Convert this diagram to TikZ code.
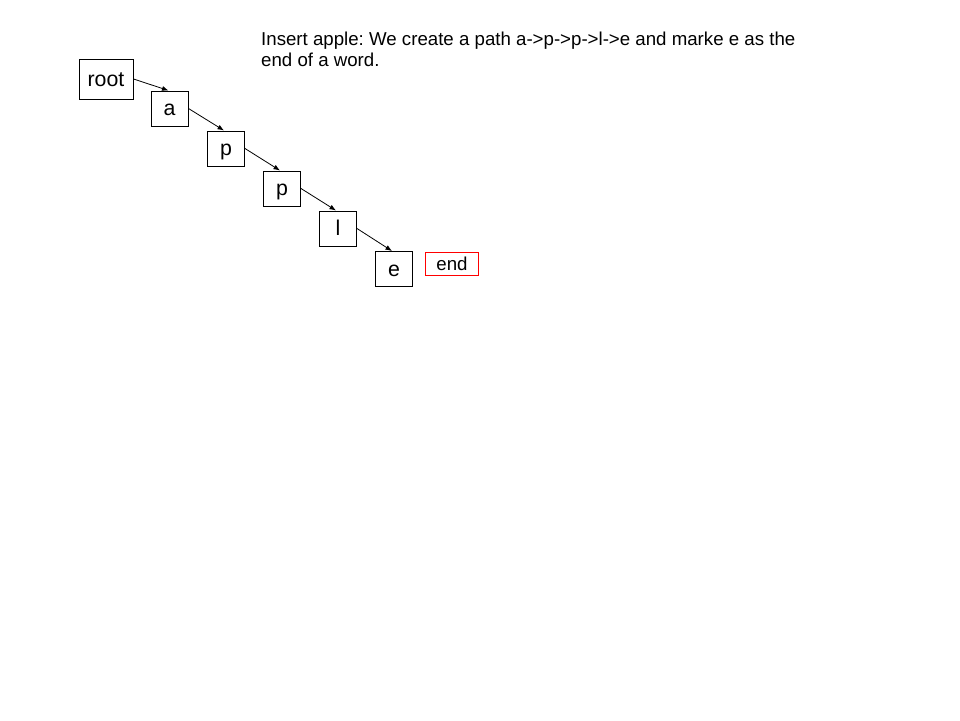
\documentclass[tikz,border=0pt]{standalone}
\usepackage{fontspec}
\setmainfont{Liberation Sans}
\usetikzlibrary{arrows.meta}
\frenchspacing
\begin{document}
\begin{tikzpicture}[x=1pt,y=-1pt,
  every node/.style={inner sep=0pt},
  boxtext/.style={font=\fontsize{21.33}{24}\selectfont, text height=19.3pt, text depth=4.52pt},
  letterbox/.style={boxtext, draw=black, line width=1pt, minimum width=37pt, minimum height=35pt},
  link/.style={draw=black, line width=0.8pt, -{Latex[length=6.5pt,width=5pt]}}]
\useasboundingbox (0,0) rectangle (960,720);
\fill[white] (0,0) rectangle (960,720);
\node[anchor=base west, align=left, font=\fontsize{18.67}{21.6}\selectfont] (title) at (261,66.6) {Insert apple: We create a path a->p->p->l->e and marke e as the\\end of a word.};
\node[boxtext, draw=black, line width=1pt, minimum width=54pt, minimum height=40pt] (root) at (106,79) {root};
\node[letterbox] (a) at (169.5,108.5) {a};
\node[letterbox] (p1) at (226,148.5) {p};
\node[letterbox] (p2) at (282,188.5) {p};
\node[letterbox] (l) at (338,228.5) {l};
\node[letterbox] (e) at (394,269) {e};
\node[font=\fontsize{18.67}{21}\selectfont, text height=16.9pt, text depth=3.96pt, draw=red, line width=1.2pt, minimum width=53pt, minimum height=23pt] (end) at (452,264) {end};
\draw[link] (root.east) -- ([xshift=-1pt]a.north);
\draw[link] (a.east) -- ([xshift=-2pt]p1.north);
\draw[link] (p1.east) -- ([xshift=-2pt]p2.north);
\draw[link] (p2.east) -- ([xshift=-2pt]l.north);
\draw[link] (l.east) -- ([xshift=-2pt]e.north);
\end{tikzpicture}
\end{document}
